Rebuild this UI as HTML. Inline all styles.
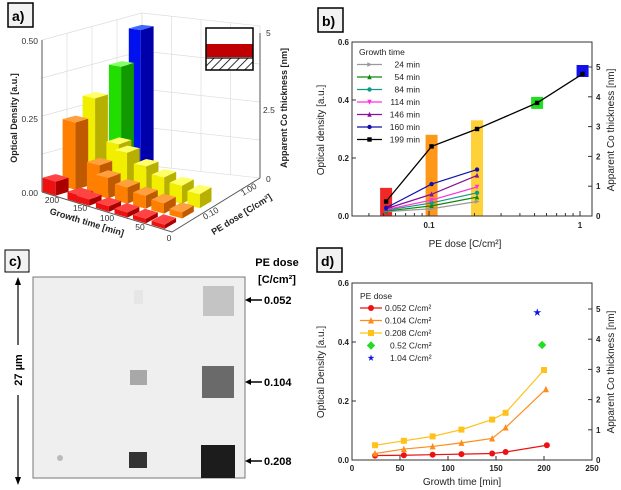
<!DOCTYPE html>
<html><head><meta charset="utf-8">
<style>
html,body{margin:0;padding:0;background:#fff;}
svg{display:block;font-family:"Liberation Sans",sans-serif;}
.lbl{font-weight:bold;font-size:14px;}
.tk{font-size:8px;font-weight:bold;fill:#222;}
.ttl{font-size:10px;fill:#222;}
</style></head>
<body>
<svg id="fig" width="621" height="490" viewBox="0 0 621 490" xmlns="http://www.w3.org/2000/svg">
<defs>
<pattern id="hatch" width="6" height="6" patternUnits="userSpaceOnUse" patternTransform="rotate(45)"><line x1="0" y1="0" x2="0" y2="6" stroke="#000" stroke-width="1.6"/></pattern>
</defs>
<g><rect x="8" y="3" width="25" height="24" fill="#f2f2f2" stroke="#000" stroke-width="1.5"/><text x="12" y="21" class="lbl">a)</text></g>
<g><rect x="318" y="8" width="25" height="24" fill="#f2f2f2" stroke="#000" stroke-width="1.5"/><text x="322" y="26" class="lbl">b)</text></g>
<g><rect x="5" y="250" width="24" height="22" fill="#f2f2f2" stroke="#000" stroke-width="1"/><text x="9" y="266" class="lbl">c)</text></g>
<g><rect x="317" y="248" width="25" height="24" fill="#f2f2f2" stroke="#000" stroke-width="1.5"/><text x="321" y="266" class="lbl">d)</text></g>

<g id="pa"></g>
<g id="pb"></g>
<g id="pd"></g>

<g>
<rect x="33" y="277" width="212" height="201" fill="#efefef" stroke="#777" stroke-width="1"/>
<rect x="134" y="290" width="9" height="14" fill="#e6e6e6"/>
<rect x="203" y="286" width="31" height="30" fill="#c4c4c4"/>
<rect x="130" y="370" width="17" height="15" fill="#a8a8a8"/>
<rect x="202" y="366" width="32" height="32" fill="#6a6a6a"/>
<rect x="129" y="452" width="18" height="16" fill="#333"/>
<rect x="201" y="445" width="34" height="33" fill="#1c1c1c"/>
<circle cx="60" cy="458" r="3" fill="#bbb"/>
<text x="277" y="266" text-anchor="middle" style="font-size:11px;font-weight:bold">PE dose</text>
<text x="277" y="283" text-anchor="middle" style="font-size:11px;font-weight:bold">[C/cm²]</text>
<g><line x1="247" y1="300" x2="262" y2="300" stroke="#000" stroke-width="1.5"/><polygon points="245,300 251,297 251,303"/><text x="264" y="304" style="font-size:11px;font-weight:bold">0.052</text></g>
<g><line x1="247" y1="382" x2="262" y2="382" stroke="#000" stroke-width="1.5"/><polygon points="245,382 251,379 251,385"/><text x="264" y="386" style="font-size:11px;font-weight:bold">0.104</text></g>
<g><line x1="247" y1="461" x2="262" y2="461" stroke="#000" stroke-width="1.5"/><polygon points="245,461 251,458 251,464"/><text x="264" y="465" style="font-size:11px;font-weight:bold">0.208</text></g>
<g>
<line x1="18" y1="280" x2="18" y2="345" stroke="#000" stroke-width="1.2"/>
<line x1="18" y1="395" x2="18" y2="482" stroke="#000" stroke-width="1.2"/>
<polygon points="18,277 15,285 21,285"/><polygon points="18,485 15,477 21,477"/>
<text transform="translate(22,370) rotate(-90)" text-anchor="middle" style="font-size:11px;font-weight:bold">27 µm</text>
</g>
</g>
</svg>
<script>
const NS='http://www.w3.org/2000/svg';
function mk(par,tag,attrs,txt){const e=document.createElementNS(NS,tag);for(const k in attrs)e.setAttribute(k,attrs[k]);if(txt!==undefined)e.textContent=txt;par.appendChild(e);return e;}

const bDoses=[0.052,0.104,0.208];
const bTimes=['24 min','54 min','84 min','114 min','146 min','160 min','199 min'];
const b24=[0.015,0.025,0.05];
const b54=[0.017,0.035,0.065];
const b84=[0.02,0.045,0.08];
const b114=[0.022,0.055,0.1];
const b146=[0.025,0.075,0.14];
const b160=[0.028,0.11,0.16];
const b199Doses=[0.052,0.104,0.208,0.52,1.04];
const b199=[0.05,0.24,0.3,0.39,0.49];
const bBarDoses=[0.052,0.104,0.208];
const bBarVals=[0.097,0.28,0.33];
const bSqDoses=[0.52,1.04];
const bSqVals=[0.39,0.5];
const bYTicks=[0,0.2,0.4,0.6];
const bYTickLabels=['0.0','0.2','0.4','0.6'];
const bXTicks=[0.1,1];
const bXTickLabels=['0.1','1'];
const bRTicks=[0,1,2,3,4,5];

const dTimes1=[24,54,84,114,146,160,203];
const d052=[0.015,0.016,0.018,0.02,0.022,0.027,0.05];
const dTimes2=[24,54,84,114,146,160,202];
const d104=[0.022,0.037,0.046,0.058,0.073,0.11,0.24];
const dTimes3=[24,54,84,114,146,160,200];
const d208=[0.05,0.065,0.08,0.103,0.137,0.16,0.305];
const d52T=[198], d52=[0.39];
const d104bT=[193], d104b=[0.5];
const dXTicks=[0,50,100,150,200,250];
const dYTicks=[0,0.2,0.4,0.6];
const dYTickLabels=['0.0','0.2','0.4','0.6'];
const dRTicks=[0,1,2,3,4,5];

const aTimes=[200,160,146,114,84,54,24];
const aRed=[0.05,0.027,0.022,0.02,0.018,0.016,0.015];
const aOrange=[0.24,0.11,0.073,0.058,0.046,0.037,0.022];
const aYellow=[0.305,0.16,0.137,0.103,0.08,0.065,0.05];
const aGreenT=[200], aGreen=[0.39];
const aBlueT=[200], aBlue=[0.5];

function marker(g,type,x,y,col,s){
  s=s||2.5;
  if(type==='circle')mk(g,'circle',{cx:x,cy:y,r:s,fill:col});
  else if(type==='square')mk(g,'rect',{x:x-s,y:y-s,width:2*s,height:2*s,fill:col});
  else if(type==='tri')mk(g,'polygon',{points:`${x},${y-s-0.5} ${x-s},${y+s} ${x+s},${y+s}`,fill:col});
  else if(type==='tridown')mk(g,'polygon',{points:`${x},${y+s+0.5} ${x-s},${y-s} ${x+s},${y-s}`,fill:col});
  else if(type==='triright')mk(g,'polygon',{points:`${x+s+0.5},${y} ${x-s},${y-s} ${x-s},${y+s}`,fill:col});
  else if(type==='star'){let p=[];for(let i=0;i<10;i++){const r=i%2?s*0.45:s*1.2,a=-Math.PI/2+i*Math.PI/5;p.push((x+r*Math.cos(a)).toFixed(1)+','+(y+r*Math.sin(a)).toFixed(1));}mk(g,'polygon',{points:p.join(' '),fill:col});}
  else if(type==='diamond')mk(g,'polygon',{points:`${x},${y-s*1.4} ${x+s*1.4},${y} ${x},${y+s*1.4} ${x-s*1.4},${y}`,fill:col});
}

(function(){
const g=document.getElementById('pb');
const L=352,R=592,T=42,B=216;
const xb=d=>429+(Math.log10(d)+1)*151;
const yb=v=>B-v/0.6*(B-T);
const barCols=['#ee1111','#ff8c00','#ffcc22'];
bBarDoses.forEach((d,i)=>{const x=xb(d);const r=mk(g,'rect',{x:x-6,y:yb(bBarVals[i]),width:12,height:B-yb(bBarVals[i]),fill:barCols[i],opacity:0.9});

});
const sqCols=['#22dd22','#1111ee'];
bSqDoses.forEach((d,i)=>{const x=xb(d),y=yb(bSqVals[i]);const r=mk(g,'rect',{x:x-6,y:y-6,width:12,height:12,fill:sqCols[i]});

});
const ser=[[b24,'#999','triright'],[b54,'#118811','tri'],[b84,'#119988','circle'],[b114,'#ff33dd','tridown'],[b146,'#881199','tri'],[b160,'#1111aa','circle']];
ser.forEach((s,k)=>{const gg=mk(g,'g',{});


mk(gg,'polyline',{points:bDoses.map((d,i)=>xb(d)+','+yb(s[0][i])).join(' '),fill:'none',stroke:s[1],'stroke-width':1.2});
bDoses.forEach((d,i)=>marker(gg,s[2],xb(d),yb(s[0][i]),s[1],2.2));});
const g199=mk(g,'g',{});


mk(g199,'polyline',{points:b199Doses.map((d,i)=>xb(d)+','+yb(b199[i])).join(' '),fill:'none',stroke:'#000','stroke-width':1.3});
b199Doses.forEach((d,i)=>marker(g199,'square',xb(d),yb(b199[i]),'#000',2.2));
mk(g,'rect',{x:L,y:T,width:R-L,height:B-T,fill:'none',stroke:'#333','stroke-width':1});
bYTicks.forEach((v,i)=>{mk(g,'line',{x1:L,x2:L+4,y1:yb(v),y2:yb(v),stroke:'#333'});mk(g,'text',{x:L-3,y:yb(v)+3,'text-anchor':'end',class:'tk'},bYTickLabels[i]);});
bXTicks.forEach((d,i)=>{mk(g,'line',{x1:xb(d),x2:xb(d),y1:B,y2:B-5,stroke:'#333'});mk(g,'text',{x:xb(d),y:B+12,'text-anchor':'middle',class:'tk'},bXTickLabels[i]);});
[0.04,0.05,0.06,0.07,0.08,0.09,0.2,0.3,0.4,0.5,0.6,0.7,0.8,0.9].forEach(d=>mk(g,'line',{x1:xb(d),x2:xb(d),y1:B,y2:B-3,stroke:'#333'}));
bRTicks.forEach(n=>{const y=B-n*(B-67)/5;mk(g,'line',{x1:R,x2:R-4,y1:y,y2:y,stroke:'#333'});mk(g,'text',{x:R+4,y:y+3,class:'tk'},String(n));});
let t=mk(g,'text',{x:465,y:247,'text-anchor':'middle',class:'ttl'},'PE dose [C/cm²]');

t=mk(g,'text',{transform:'translate(324,130) rotate(-90)','text-anchor':'middle',class:'ttl'},'Optical density [a.u.]');

t=mk(g,'text',{transform:'translate(614,130) rotate(-90)','text-anchor':'middle',class:'ttl'},'Apparent Co thickness [nm]');

const lg=mk(g,'g',{});

mk(lg,'text',{x:359,y:55,style:'font-size:8.5px;fill:#222'},'Growth time');
const lc=[['#999','triright'],['#118811','tri'],['#119988','circle'],['#ff33dd','tridown'],['#881199','tri'],['#1111aa','circle'],['#000','square']];
bTimes.forEach((nm,i)=>{const y=64.5+i*12.5;const e=mk(lg,'g',{});

mk(e,'line',{x1:357,x2:382,y1:y,y2:y,stroke:lc[i][0],'stroke-width':1.2});marker(e,lc[i][1],369.5,y,lc[i][0],2.2);
mk(e,'text',{x:420,y:y+3,'text-anchor':'end',style:'font-size:8.5px;fill:#222'},nm);});
})();

(function(){
const g=document.getElementById('pd');
const L=352,R=592,T=283,B=460;
const xd=t=>L+t/250*(R-L);
const yd=v=>B-v/0.6*(B-T);
const ser=[[dTimes1,d052,'#ee1111','circle','0.052 C/cm²'],[dTimes2,d104,'#ff8c1a','tri','0.104 C/cm²'],[dTimes3,d208,'#ffc21a','square','0.208 C/cm²']];
ser.forEach(s=>{const gg=mk(g,'g',{});

mk(gg,'polyline',{points:s[0].map((t,i)=>xd(t)+','+yd(s[1][i])).join(' '),fill:'none',stroke:s[2],'stroke-width':1.2});
s[0].forEach((t,i)=>marker(gg,s[3],xd(t),yd(s[1][i]),s[2],3));});
d52T.forEach((t,i)=>marker(g,'diamond',xd(t),yd(d52[i]),'#22dd22',3));
d104bT.forEach((t,i)=>marker(g,'star',xd(t),yd(d104b[i]),'#1111ee',3.5));
mk(g,'rect',{x:L,y:T,width:R-L,height:B-T,fill:'none',stroke:'#333','stroke-width':1});
dXTicks.forEach(t=>{mk(g,'line',{x1:xd(t),x2:xd(t),y1:B,y2:B-4,stroke:'#333'});mk(g,'text',{x:xd(t),y:B+11,'text-anchor':'middle',class:'tk'},String(t));});
dYTicks.forEach((v,i)=>{mk(g,'line',{x1:L,x2:L+4,y1:yd(v),y2:yd(v),stroke:'#333'});mk(g,'text',{x:L-3,y:yd(v)+3,'text-anchor':'end',class:'tk'},dYTickLabels[i]);});
dRTicks.forEach(n=>{const y=B-n*(B-309)/5;mk(g,'line',{x1:R,x2:R-4,y1:y,y2:y,stroke:'#333'});mk(g,'text',{x:R+4,y:y+3,class:'tk'},String(n));});
let t=mk(g,'text',{x:462,y:485,'text-anchor':'middle',class:'ttl'},'Growth time [min]');

t=mk(g,'text',{transform:'translate(324,372) rotate(-90)','text-anchor':'middle',class:'ttl'},'Optical Density [a.u.]');

t=mk(g,'text',{transform:'translate(614,372) rotate(-90)','text-anchor':'middle',class:'ttl'},'Apparent Co thickness [nm]');

const lg=mk(g,'g',{});

mk(lg,'text',{x:360,y:299,style:'font-size:8.5px;fill:#222'},'PE dose');
const ent=[['#ee1111','circle','0.052 C/cm²',true],['#ff8c1a','tri','0.104 C/cm²',true],['#ffc21a','square','0.208 C/cm²',true],['#22dd22','diamond','0.52 C/cm²',false],['#1111ee','star','1.04 C/cm²',false]];
ent.forEach((e,i)=>{const y=308+i*12.5;const eg=mk(lg,'g',{});

if(e[3])mk(eg,'line',{x1:360,x2:382,y1:y,y2:y,stroke:e[0],'stroke-width':1.2});
marker(eg,e[1],371,y,e[0],3);
mk(eg,'text',{x:e[3]?385:390,y:y+3,style:'font-size:8.5px;fill:#222'},e[2]);});
})();

(function(){
const g=document.getElementById('pa');
const A=[42,192],Bc=[172,232],C=[260,178],D=[142,165];
const H=140/0.5;
function fp(u,v){
  const x0=A[0]+(Bc[0]-A[0])*u, y0=A[1]+(Bc[1]-A[1])*u;
  const x1=D[0]+(C[0]-D[0])*u, y1=D[1]+(C[1]-D[1])*u;
  return [x0+(x1-x0)*v, y0+(y1-y0)*v];
}
const ut=t=>1-t/210;
const vd=d=>(Math.log10(d)-Math.log10(0.04))/(Math.log10(1.3)-Math.log10(0.04));
const wall=mk(g,'g',{});

for(let k=0;k<=4;k++){const f=k/4;
  const p=[A[0]+(D[0]-A[0])*f,A[1]+(D[1]-A[1])*f];mk(wall,'line',{x1:p[0],y1:p[1],x2:p[0],y2:p[1]-152,stroke:'#ddd','stroke-width':0.7});
  const q=[D[0]+(C[0]-D[0])*f,D[1]+(C[1]-D[1])*f];mk(wall,'line',{x1:q[0],y1:q[1],x2:q[0],y2:q[1]-152,stroke:'#ddd','stroke-width':0.7});
  const h=k*38;mk(wall,'polyline',{points:`${A[0]},${A[1]-h} ${D[0]},${D[1]-h} ${C[0]},${C[1]-h}`,fill:'none',stroke:'#ddd','stroke-width':0.7});
}
mk(wall,'line',{x1:A[0],y1:A[1],x2:A[0],y2:A[1]-152,stroke:'#555'});
mk(wall,'line',{x1:C[0],y1:C[1],x2:C[0],y2:C[1]-145,stroke:'#555'});
mk(wall,'polyline',{points:`${A[0]},${A[1]} ${Bc[0]},${Bc[1]} ${C[0]},${C[1]}`,fill:'none',stroke:'#555'});
const bars=[];
function add(ts,vals,d,cols){ts.forEach((t,i)=>bars.push({t,v:vals[i],d,cols}));}
const red=['#ff4444','#ee1111','#aa0000'],org=['#ffa040','#ff8000','#c05a00'],yel=['#ffff66','#f2ee00','#b8b000'],grn=['#88ff66','#22dd00','#119900'],blu=['#4466ff','#0011ee','#0000aa'];
add(aTimes,aRed,0.052,red);add(aTimes,aOrange,0.104,org);add(aTimes,aYellow,0.208,yel);
add(aGreenT,aGreen,0.52,grn);add(aBlueT,aBlue,1.04,blu);
bars.sort((a,b)=>(ut(a.t)+(1-vd(a.d)))-(ut(b.t)+(1-vd(b.d))));
const du=0.05,dv=0.065;
bars.forEach(b=>{const u=ut(b.t),v=vd(b.d),h=b.v*H;
  const p00=fp(u-du,v-dv),p10=fp(u+du,v-dv),p11=fp(u+du,v+dv),p01=fp(u-du,v+dv);
  const up=p=>[p[0],p[1]-h];
  const bg=mk(g,'g',{});
  
  
  const pts=a=>a.map(p=>p[0].toFixed(1)+','+p[1].toFixed(1)).join(' ');
  mk(bg,'polygon',{points:pts([p00,p10,up(p10),up(p00)]),fill:b.cols[1]});
  mk(bg,'polygon',{points:pts([p10,p11,up(p11),up(p10)]),fill:b.cols[2]});
  mk(bg,'polygon',{points:pts([up(p00),up(p10),up(p11),up(p01)]),fill:b.cols[0]});
});
const tx=(x,y,s,extra)=>mk(g,'text',Object.assign({x,y,style:'font-size:8.5px;fill:#333'},extra||{}),s);
tx(38,44,'0.50',{'text-anchor':'end'});tx(38,122,'0.25',{'text-anchor':'end'});tx(38,196,'0.00',{'text-anchor':'end'});
tx(266,36,'5');tx(263,113,'2.5');tx(266,182,'0');
[[200,52,203],[150,80,211],[100,107,221],[50,140,230],[0,169,241]].forEach(a=>tx(a[1],a[2],String(a[0]),{'text-anchor':'middle'}));
tx(205,220,'0.10',{transform:'rotate(-30 205 220)'});tx(243,196,'1.00',{transform:'rotate(-30 243 196)'});
let t=mk(g,'text',{transform:'translate(17,118) rotate(-90)','text-anchor':'middle',style:'font-size:9px;font-weight:bold;fill:#222'},'Optical Density [a.u.]');

t=mk(g,'text',{transform:'translate(287,108) rotate(-90)','text-anchor':'middle',style:'font-size:9px;font-weight:bold;fill:#222'},'Apparent Co thickness [nm]');

t=mk(g,'text',{transform:'translate(86,225) rotate(17)','text-anchor':'middle',style:'font-size:9px;font-weight:bold;fill:#222'},'Growth time [min]');

t=mk(g,'text',{transform:'translate(243,217) rotate(-32)','text-anchor':'middle',style:'font-size:9px;font-weight:bold;fill:#222'},'PE dose [C/cm²]');

const ins=mk(g,'g',{});

mk(ins,'rect',{x:206,y:28,width:47,height:42,fill:'#fff'});
mk(ins,'rect',{x:206,y:44,width:47,height:13,fill:'#c00000'});
mk(ins,'rect',{x:206,y:58,width:47,height:12,fill:'url(#hatch)'});
mk(ins,'rect',{x:206,y:28,width:47,height:42,fill:'none',stroke:'#000','stroke-width':1.5});
mk(ins,'line',{x1:206,y1:58,x2:253,y2:58,stroke:'#000','stroke-width':1.2});
})();
</script>
</body></html>
